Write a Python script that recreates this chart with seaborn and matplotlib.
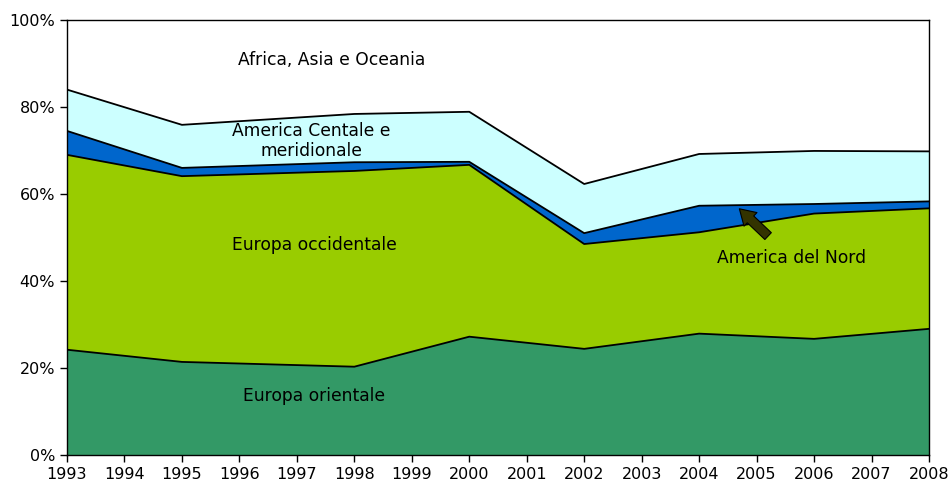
import matplotlib
matplotlib.use("Agg")
import matplotlib.pyplot as plt
import seaborn as sns
import pandas as pd
from matplotlib.ticker import FuncFormatter

# shares (%)
years = [1993, 1995, 1998, 2000, 2002, 2004, 2006, 2008]
europa_orientale = [24.2, 21.4, 20.3, 27.2, 24.4, 27.9, 26.7, 29.0]
europa_occidentale = [44.8, 42.7, 45.0, 39.5, 24.1, 23.3, 28.8, 27.7]
america_nord = [5.5, 1.9, 2.0, 0.7, 2.5, 6.1, 2.2, 1.6]
america_centrale = [9.5, 9.9, 11.1, 11.5, 11.3, 11.9, 12.2, 11.5]
africa_asia_oceania = [16.0, 24.1, 21.6, 21.1, 37.7, 30.8, 30.1, 30.2]

regions = ["Europa orientale", "Europa occidentale", "America del Nord",
           "America Centale e\nmeridionale", "Africa, Asia e Oceania"]
colors = ["#339966", "#99CC00", "#0066CC", "#CCFFFF", "#FFFFFF"]

df = pd.DataFrame({
    "anno": years,
    regions[0]: europa_orientale,
    regions[1]: europa_occidentale,
    regions[2]: america_nord,
    regions[3]: america_centrale,
    regions[4]: africa_asia_oceania,
})

sns.set_style("white")
plt.rcParams["font.family"] = ["DejaVu Sans"]
plt.rcParams["text.color"] = "black"
plt.rcParams["xtick.color"] = "black"
plt.rcParams["ytick.color"] = "black"

fig = plt.figure(figsize=(9.51, 4.84), dpi=100)
ax = fig.add_axes([67 / 951, 1 - 455 / 484, (929 - 67) / 951, (455 - 20) / 484])

ax.stackplot(df["anno"], [df[r] for r in regions], colors=colors,
             edgecolor="none", linewidth=0)

# black boundary lines between the layers
cum = df[regions[:4]].cumsum(axis=1)
for r in regions[:4]:
    sns.lineplot(x=df["anno"], y=cum[r], ax=ax, color="black", linewidth=1.3)

ax.set_xlim(1993, 2008)
ax.set_ylim(0, 100)
ax.set_xticks(range(1993, 2009))
ax.set_yticks(range(0, 101, 20))
ax.yaxis.set_major_formatter(FuncFormatter(lambda v, p: f"{int(v)}%"))
ax.set_xlabel("")
ax.set_ylabel("")
ax.tick_params(axis="both", direction="out", length=5, width=1, labelsize=11.5,
               color="black", labelcolor="black", left=True, bottom=True)
for s in ax.spines.values():
    s.set_color("black")
    s.set_linewidth(1)

fs = 12.3
ax.text(1997.6, 90.8, "Africa, Asia e Oceania", ha="center", va="center", fontsize=fs)
ax.text(1997.25, 72.2, "America Centale e\nmeridionale", ha="center", va="center",
        fontsize=fs, linespacing=1.2)
ax.text(1997.3, 48.3, "Europa occidentale", ha="center", va="center", fontsize=fs)
ax.text(1997.3, 13.6, "Europa orientale", ha="center", va="center", fontsize=fs)
ax.annotate("America del Nord", xy=(2004.7, 56.6), xytext=(2005.6, 45.3),
            ha="center", va="center", fontsize=fs,
            arrowprops=dict(arrowstyle="simple,head_length=0.9,head_width=1.1,tail_width=0.55",
                            facecolor="#333300", edgecolor="black", lw=0.8,
                            shrinkA=10, shrinkB=0))

fig.savefig("out.png", dpi=100)
